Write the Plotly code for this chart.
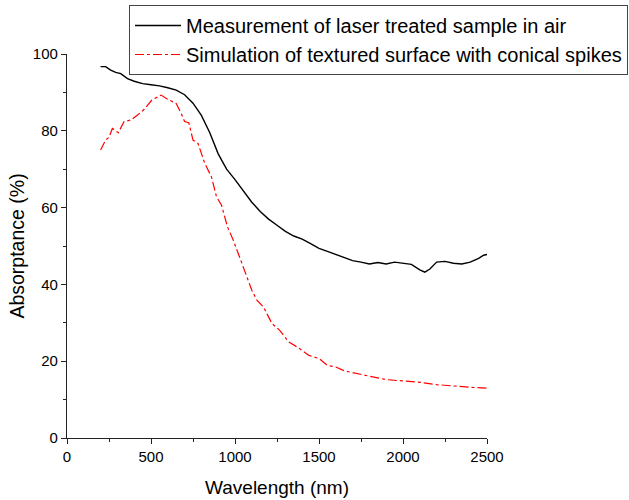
import plotly.graph_objects as go

# Measurement of laser treated sample in air
meas_wl = [200, 230, 260, 290, 320, 360, 400, 450, 500, 550, 600, 650, 700, 750, 800, 850, 900, 950,
           1000, 1050, 1100, 1150, 1200, 1250, 1300, 1350, 1400, 1450, 1500, 1550, 1600, 1650, 1700,
           1750, 1800, 1850, 1900, 1950, 2000, 2050, 2100, 2130, 2160, 2200, 2250, 2300, 2350, 2400,
           2450, 2480, 2500]
meas_abs = [96.7, 96.7, 95.8, 95.2, 94.9, 93.6, 92.9, 92.3, 92.0, 91.7, 91.2, 90.6, 89.4, 87.2, 84.0,
            79.5, 74.0, 70.0, 67.3, 64.2, 61.4, 59.0, 57.0, 55.4, 53.8, 52.6, 51.8, 50.6, 49.4, 48.6,
            47.8, 47.0, 46.2, 45.8, 45.3, 45.7, 45.3, 45.8, 45.5, 45.2, 43.8, 43.2, 44.0, 45.8, 46.0,
            45.5, 45.3, 45.8, 46.8, 47.6, 47.8]

# Simulation of textured surface with conical spikes
sim_wl = [200, 230, 250, 270, 285, 305, 340, 380, 420, 460, 505, 560, 600, 650, 680, 700, 725, 750,
          780, 820, 860, 890, 920, 955, 990, 1020, 1060, 1100, 1130, 1170, 1220, 1265, 1320, 1370,
          1440, 1500, 1550, 1600, 1650, 1720, 1800, 1900, 2000, 2100, 2200, 2300, 2400, 2500]
sim_abs = [75.0, 77.6, 78.3, 80.6, 80.2, 79.5, 82.4, 82.8, 84.1, 85.6, 88.0, 89.3, 88.2, 87.1, 84.5,
           82.4, 82.1, 77.6, 76.7, 71.5, 68.0, 62.8, 60.6, 55.0, 51.5, 48.0, 42.8, 38.5, 35.9, 34.1,
           29.8, 28.1, 25.0, 23.7, 21.5, 20.7, 18.9, 18.5, 17.5, 16.8, 16.1, 15.2, 14.8, 14.5, 13.9,
           13.5, 13.2, 13.0]

x_ticks = [0, 500, 1000, 1500, 2000, 2500]
y_ticks = [0, 20, 40, 60, 80, 100]

FONT = "Arial, Liberation Sans, sans-serif"

fig = go.Figure()
fig.add_trace(go.Scatter(x=meas_wl, y=meas_abs, mode="lines",
                         name="Measurement of laser treated sample in air",
                         line=dict(color="#000000", width=1.4)))
fig.add_trace(go.Scatter(x=sim_wl, y=sim_abs, mode="lines",
                         name="Simulation of textured surface with conical spikes",
                         line=dict(color="#ff0000", width=1.2, dash="dashdot")))

axis_common = dict(showgrid=False, zeroline=False, showline=True, linecolor="#222222", linewidth=1.3,
                   ticks="outside", ticklen=5, tickwidth=1.3, tickcolor="#222222",
                   tickfont=dict(family=FONT, size=15, color="#000"))

fig.update_xaxes(range=[0, 2500], tickvals=x_ticks, ticktext=[str(v) for v in x_ticks],
                 title_text="Wavelength (nm)", title_standoff=16,
                 title_font=dict(family=FONT, size=19, color="#000"),
                 minor=dict(dtick=250, tick0=0, ticks="outside", ticklen=3, tickwidth=1.3, tickcolor="#222222"),
                 **axis_common)
fig.update_yaxes(range=[0, 100], tickvals=y_ticks, ticktext=[str(v) for v in y_ticks],
                 title_text="Absorptance (%)", title_standoff=2,
                 title_font=dict(family=FONT, size=19.5, color="#000"),
                 minor=dict(dtick=10, tick0=0, ticks="outside", ticklen=3, tickwidth=1.3, tickcolor="#222222"),
                 **axis_common)

fig.update_layout(
    width=629, height=500,
    margin=dict(l=67, r=142, t=54, b=62, autoexpand=False),
    plot_bgcolor="white", paper_bgcolor="white",
    font=dict(family=FONT, color="#000"),
    showlegend=True,
    legend=dict(x=(129 - 67) / 420, y=1 + (54 - 5) / 384, xanchor="left", yanchor="top",
                bordercolor="#444444", borderwidth=1, bgcolor="rgba(255,255,255,0)", itemwidth=46,
                font=dict(family=FONT, size=20, color="#000"), tracegroupgap=0),
)

fig.write_html("out.html")
